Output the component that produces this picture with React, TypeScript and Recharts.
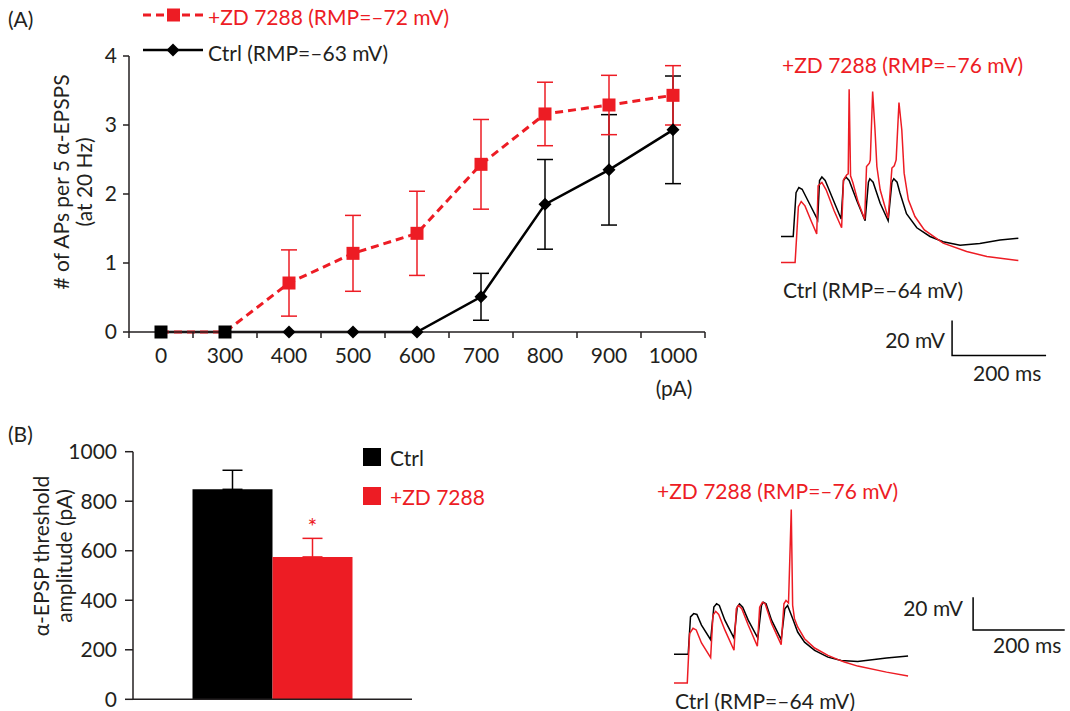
import React from 'react';
import { LineChart, Line, XAxis, YAxis, ErrorBar, BarChart, Bar } from 'recharts';

const FONT = 'Lato, "Open Sans", sans-serif';
const FS = 21;
const RED = '#ed1c24';
const INK = '#231f20';

// (A) APs per train of 5 alpha-EPSPs vs injected amplitude
const currentLabels = ['0', '300', '400', '500', '600', '700', '800', '900', '1000'];
const zdMean = [0, 0, 0.71, 1.14, 1.43, 2.43, 3.16, 3.29, 3.43];
const zdSem = [null, null, 0.48, 0.55, 0.61, 0.65, 0.46, 0.43, 0.43];
const ctrlMean = [0, 0, 0, 0, 0, 0.51, 1.85, 2.35, 2.93];
const ctrlSem = [null, null, null, null, null, 0.34, 0.65, 0.8, 0.78];
const apTicks = [0, 1, 2, 3, 4];
const stepCenters = [0, 1, 2, 3, 4, 5, 6, 7, 8];
const stepEdges = [-0.5, 0.5, 1.5, 2.5, 3.5, 4.5, 5.5, 6.5, 7.5, 8.5];

// (B) threshold amplitude
const thresholdMean = [848, 575];
const thresholdSem = [77, 75];
const thresholdTicks = [0, 200, 400, 600, 800, 1000];

// membrane potential traces, [ms, mV]
const traceACtrl = [
  [0, -64], [26, -64], [32, -39], [38, -36], [45, -37], [62, -46], [78, -54.5],
  [82, -32], [87, -30], [94, -32], [111, -43], [128, -54],
  [133, -32], [138, -30], [145, -32], [162, -44], [179, -55],
  [186, -33], [189, -31], [196, -33], [211, -45], [228, -55],
  [236, -33], [240, -31], [247, -33], [253, -39], [267, -51], [289, -59],
  [317, -64], [345, -67], [381, -69], [423, -68], [466, -66], [505, -65],
];
const traceAZd = [
  [0, -76], [30, -76], [37, -44.1], [43, -41.1], [51, -43.6], [64, -52.1], [76, -59.6],
  [79, -32.1], [87, -30.2], [96, -34.4], [113, -46.4], [129, -56.1],
  [133, -28.7], [140, -25.8], [143, -25.3], [145, 23.1], [148, -26.4], [153, -30.4], [164, -41.3], [178, -51.3],
  [182, -21.1], [188, -19.2], [190, -17.3], [195, 21.8], [200, -0.1], [204, -21.1], [211, -34.4], [228, -50.6],
  [236, -22], [241, -20.7], [245, -17.3], [251, 15.5], [257, -0.1], [262, -24.9], [271, -40.1], [285, -49.7],
  [305, -57.3], [345, -64.9], [395, -69.7], [438, -72.5], [505, -74.8],
];
const traceBCtrl = [
  [0, -64], [31, -64], [36, -41], [43, -39], [50, -39.5], [60, -46], [80, -55],
  [87, -35], [93, -33], [99, -34], [111, -43], [131, -54],
  [138, -35], [143, -33], [150, -35], [162, -43], [183, -54],
  [191, -34], [195, -32], [201, -33], [213, -43], [234, -55],
  [242, -36], [248, -34], [259, -42], [270, -50.3], [285, -56.5], [307, -61.5],
  [336, -65.7], [365, -67.7], [401, -68.3], [464, -66.3], [511, -65],
];
const traceBZd = [
  [0, -76], [29, -76], [34, -45.7], [41.5, -42.4], [48.5, -43.4], [60, -51.4], [80, -60.4],
  [85, -34.5], [91, -32], [97.6, -33.9], [111, -43.4], [131, -55.9],
  [136, -30.4], [141, -28.4], [148, -30.4], [162, -40.4], [182, -53.4],
  [187, -29.4], [193, -26.4], [199, -27.4], [213, -39.4], [234, -52.4],
  [240, -27.4], [244.5, -25.3], [250, -26.9], [256, 30.4], [259, -28.3], [263, -36.5], [270, -41.6],
  [285, -48.8], [307, -54.5], [336, -59], [357, -61.5], [372, -63.1], [401, -65.6], [464, -69.3], [511, -71.7],
];
// 20 mV / 200 ms calibration bars
const scaleBarA = [[364, -112], [364, -132], [564, -132]];
const scaleBarB = [[653, -29], [653, -49], [853, -49]];

const apData = currentLabels.map((_, i) => ({
  i,
  zd: zdMean[i],
  zdSem: zdSem[i],
  ctrl: ctrlMean[i],
  ctrlSem: ctrlSem[i],
}));

const thresholdData = [
  { group: 0.5, ctrl: thresholdMean[0], zd: thresholdMean[1], ctrlErr: [0, thresholdSem[0]], zdErr: [0, thresholdSem[1]] },
];

const toPoints = (pairs: number[][]) => pairs.map(([t, v]) => ({ t, v }));

function Txt({ x, y, anchor = 'start', color = INK, children }: any) {
  const shift = anchor === 'middle' ? '-50%' : anchor === 'end' ? '-100%' : '0';
  return (
    <div
      style={{
        position: 'absolute',
        left: x,
        top: y,
        transform: `translate(${shift}, -50%)`,
        whiteSpace: 'nowrap',
        fontFamily: FONT,
        fontSize: FS,
        lineHeight: `${FS}px`,
        color,
      }}
    >
      {children}
    </div>
  );
}

function StepTick({ x, y, payload }: any) {
  const v = payload.value;
  if (Number.isInteger(v)) {
    return (
      <text x={x} y={y + 24} dy="0.35em" textAnchor="middle" fill={INK} fontFamily={FONT} fontSize={FS}>
        {currentLabels[v]}
      </text>
    );
  }
  return <line x1={x} x2={x} y1={y} y2={y + 6} stroke={INK} strokeWidth={1.5} />;
}

// the two zero points at the start are covered by the Ctrl squares
function ZdDot({ cx, cy, index }: any) {
  if (cx == null || cy == null || index < 2) return <g key={index} />;
  return <rect key={index} x={cx - 6.5} y={cy - 6.5} width={13} height={13} fill={RED} />;
}

function CtrlDot({ cx, cy, index }: any) {
  if (cx == null || cy == null) return <g key={index} />;
  if (index < 2) return <rect key={index} x={cx - 6.5} y={cy - 6.5} width={13} height={13} fill="#000" />;
  return (
    <path
      key={index}
      d={`M${cx},${cy - 6.5}L${cx + 6.5},${cy}L${cx},${cy + 6.5}L${cx - 6.5},${cy}Z`}
      fill="#000"
    />
  );
}

function AxisLabel({ cx, cy, lines }: { cx: number; cy: number; lines: string[] }) {
  return (
    <div
      style={{
        position: 'absolute',
        left: cx,
        top: cy,
        transform: 'translate(-50%, -50%) rotate(-90deg)',
        whiteSpace: 'nowrap',
        textAlign: 'center',
        fontFamily: FONT,
        fontSize: FS,
        lineHeight: '23px',
        color: INK,
      }}
    >
      {lines.map((l) => (
        <div key={l}>{l}</div>
      ))}
    </div>
  );
}

function Trace({ left, top, width, height, tDomain, ctrlDomain, zdDomain, ctrl, zd, bar }: any) {
  return (
    <div style={{ position: 'absolute', left, top }}>
      <LineChart width={width} height={height} margin={{ top: 0, right: 0, bottom: 0, left: 0 }}>
        <XAxis hide type="number" dataKey="t" domain={tDomain} allowDataOverflow />
        <YAxis hide yAxisId="ctrl" type="number" domain={ctrlDomain} allowDataOverflow />
        <YAxis hide yAxisId="zd" type="number" domain={zdDomain} allowDataOverflow />
        <Line yAxisId="ctrl" data={toPoints(bar)} dataKey="v" type="linear" stroke="#000" strokeWidth={1.5} dot={false} isAnimationActive={false} />
        <Line yAxisId="ctrl" data={toPoints(ctrl)} dataKey="v" type="linear" stroke="#000" strokeWidth={1.5} dot={false} isAnimationActive={false} />
        <Line yAxisId="zd" data={toPoints(zd)} dataKey="v" type="linear" stroke={RED} strokeWidth={1.5} dot={false} isAnimationActive={false} />
      </LineChart>
    </div>
  );
}

export default function App() {
  return (
    <div style={{ position: 'absolute', left: 0, top: 0, width: 1070, height: 711, background: '#fff', overflow: 'hidden' }}>
      {/* (A) */}
      <div style={{ position: 'absolute', left: 0, top: 0 }}>
        <LineChart width={720} height={400} data={apData} margin={{ top: 56, right: 15, bottom: 38, left: 69 }}>
          <XAxis
            type="number"
            dataKey="i"
            domain={[-0.5, 8.5]}
            ticks={[...stepEdges, ...stepCenters]}
            interval={0}
            height={30}
            tickSize={0}
            tickMargin={0}
            tickLine={false}
            tick={(p: any) => <StepTick key={p.index} {...p} />}
            axisLine={{ stroke: INK, strokeWidth: 1.5 }}
          />
          <YAxis
            type="number"
            domain={[0, 4]}
            ticks={apTicks}
            interval={0}
            width={60}
            tickSize={6}
            tickMargin={6}
            tick={{ fill: INK, fontFamily: FONT, fontSize: FS }}
            tickLine={{ stroke: INK, strokeWidth: 1.5 }}
            axisLine={{ stroke: INK, strokeWidth: 1.5 }}
          />
          <Line
            dataKey="ctrl"
            type="linear"
            stroke="#000"
            strokeWidth={2.5}
            dot={(p: any) => <CtrlDot key={p.index} {...p} />}
            isAnimationActive={false}
          >
            <ErrorBar dataKey="ctrlSem" width={8} stroke="#000" strokeWidth={1.5} direction="y" />
          </Line>
          <Line
            dataKey="zd"
            type="linear"
            stroke={RED}
            strokeWidth={3}
            strokeDasharray="8 5"
            dot={(p: any) => <ZdDot key={p.index} {...p} />}
            isAnimationActive={false}
          >
            <ErrorBar dataKey="zdSem" width={8} stroke={RED} strokeWidth={1.5} direction="y" />
          </Line>
        </LineChart>
      </div>

      <Txt x={8} y={18}>(A)</Txt>
      <svg style={{ position: 'absolute', left: 140, top: 0 }} width={68} height={64}>
        <line x1={3} x2={63} y1={15} y2={15} stroke={RED} strokeWidth={3} strokeDasharray="8 5" />
        <rect x={27} y={8.5} width={13} height={13} fill={RED} />
        <line x1={3} x2={63} y1={50} y2={50} stroke="#000" strokeWidth={2.5} />
        <path d="M33,43.5L39.5,50L33,56.5L26.5,50Z" fill="#000" />
      </svg>
      <Txt x={208} y={16} color={RED}>+ZD 7288 (RMP=–72 mV)</Txt>
      <Txt x={208} y={52}>Ctrl (RMP=–63 mV)</Txt>
      <AxisLabel cx={71.5} cy={182} lines={['# of APs per 5 α-EPSPS', '(at 20 Hz)']} />
      <Txt x={674} y={387} anchor="middle">(pA)</Txt>

      <Trace
        left={781}
        top={72.2}
        width={267.9}
        height={288.75}
        tDomain={[0, 570]}
        ctrlDomain={[-135, 30]}
        zdDomain={[-132.1, 32.9]}
        ctrl={traceACtrl}
        zd={traceAZd}
        bar={scaleBarA}
      />
      <Txt x={782} y={64} color={RED}>+ZD 7288 (RMP=–76 mV)</Txt>
      <Txt x={783} y={289}>Ctrl (RMP=–64 mV)</Txt>
      <Txt x={945} y={339} anchor="end">20 mV</Txt>
      <Txt x={973} y={372}>200 ms</Txt>

      {/* (B) */}
      <div style={{ position: 'absolute', left: 0, top: 400 }}>
        <BarChart width={430} height={311} data={thresholdData} barGap={0} margin={{ top: 51.7, right: 18, bottom: 1.7, left: 73 }}>
          <XAxis
            type="number"
            dataKey="group"
            domain={[0, 1]}
            ticks={[0, 1]}
            interval={0}
            height={10}
            tick={false}
            tickSize={8}
            tickLine={{ stroke: INK, strokeWidth: 1.5 }}
            axisLine={{ stroke: INK, strokeWidth: 1.5 }}
          />
          <YAxis
            type="number"
            domain={[0, 1000]}
            ticks={thresholdTicks}
            interval={0}
            width={60}
            tickSize={8}
            tickMargin={8}
            tick={{ fill: INK, fontFamily: FONT, fontSize: FS }}
            tickLine={{ stroke: INK, strokeWidth: 1.5 }}
            axisLine={{ stroke: INK, strokeWidth: 1.5 }}
          />
          <Bar dataKey="ctrl" fill="#000" barSize={80} isAnimationActive={false}>
            <ErrorBar dataKey="ctrlErr" width={10} stroke="#000" strokeWidth={1.5} direction="y" />
          </Bar>
          <Bar
            dataKey="zd"
            fill={RED}
            barSize={80}
            isAnimationActive={false}
            label={({ x, y, width }: any) => (
              <text x={x + width / 2} y={y - 22} textAnchor="middle" fill={RED} fontFamily={FONT} fontSize={FS + 2}>
                *
              </text>
            )}
          >
            <ErrorBar dataKey="zdErr" width={10} stroke={RED} strokeWidth={1.5} direction="y" />
          </Bar>
        </BarChart>
      </div>

      <Txt x={8} y={433}>(B)</Txt>
      <AxisLabel cx={51.5} cy={556} lines={['α-EPSP threshold', 'amplitude (pA)']} />
      <div style={{ position: 'absolute', left: 363, top: 448, width: 18, height: 18, background: '#000' }} />
      <Txt x={390} y={457}>Ctrl</Txt>
      <div style={{ position: 'absolute', left: 363, top: 487, width: 18, height: 18, background: RED }} />
      <Txt x={390} y={496} color={RED}>+ZD 7288</Txt>

      <Trace
        left={674.3}
        top={492.6}
        width={398.5}
        height={203.75}
        tDomain={[0, 870]}
        ctrlDomain={[-90, 35]}
        zdDomain={[-84.4, 40.6]}
        ctrl={traceBCtrl}
        zd={traceBZd}
        bar={scaleBarB}
      />
      <Txt x={657} y={490} color={RED}>+ZD 7288 (RMP=–76 mV)</Txt>
      <Txt x={675} y={700}>Ctrl (RMP=–64 mV)</Txt>
      <Txt x={963} y={607} anchor="end">20 mV</Txt>
      <Txt x={993} y={644}>200 ms</Txt>
    </div>
  );
}
